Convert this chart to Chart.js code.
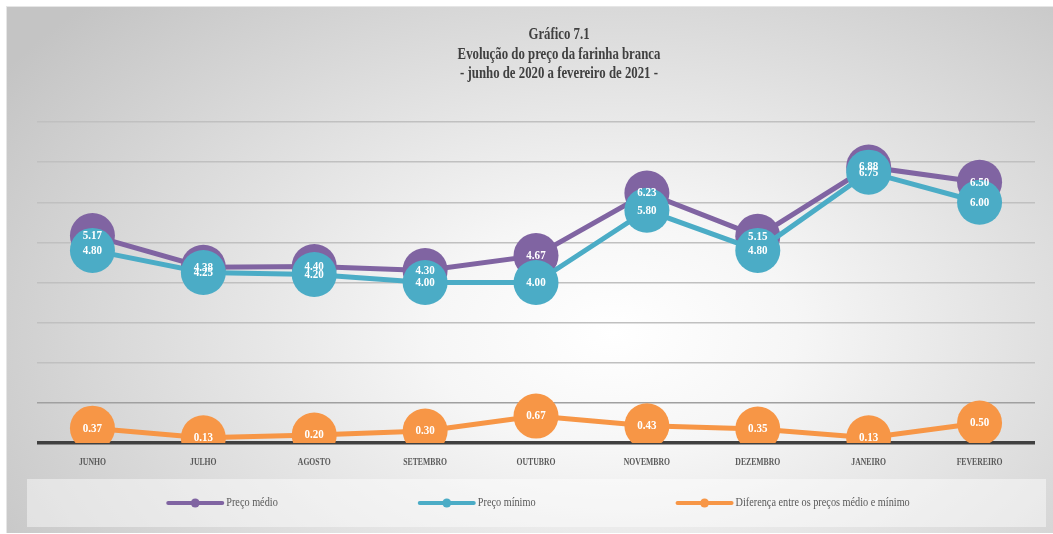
<!DOCTYPE html>
<html lang="pt-br">
<head>
  <meta charset="UTF-8">
  <title>Gráfico 7.1 - Farinha branca</title>
  <script src="https://cdn.jsdelivr.net/npm/chart.js"></script>
</head>

<style>
  body {
    margin: 0;
    background: #ffffff;
    overflow: hidden;
  }

  .moldura {
    position: absolute;
    left: 6px;
    top: 6px;
    width: 1047px;
    height: 527px;
    background: radial-gradient(ellipse 70% 90% at 58% 62%, #ffffff 0%, #f6f6f6 25%, #c4c4c4 100%);
    border-top: 1px solid #e6e6e6;
    border-left: 1px solid #e6e6e6;
    box-sizing: border-box;
  }

  .caixa-legenda {
    position: absolute;
    left: 27px;
    top: 479px;
    width: 1019px;
    height: 48px;
    background: rgba(255, 255, 255, 0.45);
  }

  .grafico {
    position: absolute;
    left: 0;
    top: 0;
    width: 1053px;
    height: 534px;
  }
</style>

<body>

  <div class="moldura"></div>
  <div class="caixa-legenda"></div>
  <div class="grafico">
    <canvas id="graficoFarinha"></canvas>
  </div>

  <script>
    // Dados
    const meses = ['JUNHO', 'JULHO', 'AGOSTO', 'SETEMBRO', 'OUTUBRO', 'NOVEMBRO', 'DEZEMBRO', 'JANEIRO', 'FEVEREIRO'];
    const precoMedio = [5.17, 4.38, 4.40, 4.30, 4.67, 6.23, 5.15, 6.88, 6.50];
    const precoMinimo = [4.80, 4.25, 4.20, 4.00, 4.00, 5.80, 4.80, 6.75, 6.00];
    const diferenca = [0.37, 0.13, 0.20, 0.30, 0.67, 0.43, 0.35, 0.13, 0.50];
    const titulo = ['Gráfico 7.1', 'Evolução do preço da farinha branca', '- junho de 2020 a fevereiro de 2021 -'];

    // fonte serifada "apertada" na horizontal, imitando a condensada do original
    const fonte = "'Liberation Serif', 'DejaVu Serif', serif";
    const roxo = '#8064A2';
    const azul = '#4BACC6';
    const laranja = '#F79646';

    // escreve texto comprimido na horizontal
    function texto(ctx, str, x, y, sx) {
      ctx.save();
      ctx.translate(x, y);
      ctx.scale(sx, 1);
      ctx.fillText(str, 0, 0);
      ctx.restore();
    }

    // Título desenhado à mão (centralizado um pouco à direita, como no original)
    const tituloPlugin = {
      id: 'tituloPlugin',
      afterDraw(chart) {
        const ctx = chart.ctx;
        const area = chart.chartArea;
        const cx = (area.left + area.right) / 2 + 23;
        ctx.save();
        ctx.font = 'bold 16px ' + fonte;
        ctx.fillStyle = '#404040';
        ctx.textAlign = 'center';
        ctx.textBaseline = 'middle';
        [35, 55, 74].forEach((y, i) => texto(ctx, titulo[i], cx, y, 0.8));
        ctx.restore();
      }
    };

    // Rótulos do eixo x e rótulos brancos dentro dos círculos
    const rotulosPlugin = {
      id: 'rotulosPlugin',
      afterDatasetsDraw(chart) {
        const ctx = chart.ctx;
        const xs = chart.scales.x;
        ctx.save();
        ctx.textAlign = 'center';
        ctx.textBaseline = 'middle';

        ctx.font = 'bold 11px ' + fonte;
        ctx.fillStyle = '#595959';
        meses.forEach((m, i) => texto(ctx, m, xs.getPixelForValue(i), xs.top + 19, 0.7));

        ctx.font = 'bold 13px ' + fonte;
        ctx.fillStyle = '#ffffff';
        chart.data.datasets.forEach((ds, i) => {
          chart.getDatasetMeta(i).data.forEach((pt, j) => {
            texto(ctx, ds.data[j].toFixed(2), pt.x, pt.y, 0.85);
          });
        });
        ctx.restore();
      }
    };

    // Legenda com linha + bolinha
    const legendaPlugin = {
      id: 'legendaPlugin',
      afterDraw(chart) {
        const ctx = chart.ctx;
        const area = chart.chartArea;
        const linha = 54, espaco = 4, separa = 142, sx = 0.82;
        const y = 503;
        ctx.save();
        ctx.font = '12.5px ' + fonte;
        const itens = chart.data.datasets.map(ds => ({
          texto: ds.label, cor: ds.borderColor, largura: ctx.measureText(ds.label).width * sx
        }));
        let total = 0;
        itens.forEach((it, i) => { total += linha + espaco + it.largura + (i ? separa : 0); });
        let x = (area.left + area.right) / 2 + 3 - total / 2;
        itens.forEach(it => {
          ctx.strokeStyle = it.cor;
          ctx.lineWidth = 4;
          ctx.lineCap = 'round';
          ctx.beginPath();
          ctx.moveTo(x, y);
          ctx.lineTo(x + linha, y);
          ctx.stroke();
          ctx.fillStyle = it.cor;
          ctx.beginPath();
          ctx.arc(x + linha / 2, y, 4.5, 0, Math.PI * 2);
          ctx.fill();
          ctx.fillStyle = '#595959';
          ctx.textAlign = 'left';
          ctx.textBaseline = 'middle';
          texto(ctx, it.texto, x + linha + espaco, y, sx);
          x += linha + espaco + it.largura + separa;
        });
        ctx.restore();
      }
    };

    const serie = (label, dados, cor, ordem) => ({
      label: label,
      data: dados,
      borderColor: cor,
      backgroundColor: cor,
      borderWidth: 5,
      pointRadius: 22.5,
      pointHoverRadius: 22.5,
      pointBorderWidth: 0,
      order: ordem
    });

    const ctx = document.getElementById('graficoFarinha').getContext('2d');
    new Chart(ctx, {
      type: 'line',
      data: {
        labels: meses,
        datasets: [
          serie('Preço médio', precoMedio, roxo, 3),
          serie('Preço mínimo', precoMinimo, azul, 2),
          serie('Diferença entre os preços médio e mínimo', diferenca, laranja, 1)
        ]
      },
      options: {
        responsive: true,
        maintainAspectRatio: false,
        animation: false,
        layout: {
          autoPadding: false,
          padding: { left: 37, right: 18, top: 122, bottom: 54 }
        },
        plugins: {
          legend: { display: false },
          title: { display: false },
          tooltip: { enabled: false }
        },
        scales: {
          x: {
            offset: true,
            grid: { display: false, drawTicks: false },
            border: { display: false },
            ticks: { display: false },
            // espaço para os rótulos escritos pelo plugin
            afterFit: s => { s.height = 37; }
          },
          y: {
            min: 0,
            max: 8,
            border: { display: false },
            grid: {
              drawTicks: false,
              color: c => c.tick.value === 0 ? '#404040' : (c.tick.value === 1 ? '#a0a0a0' : '#c0c0c0'),
              lineWidth: c => c.tick.value === 0 ? 3.5 : 1.5
            },
            ticks: { display: false, stepSize: 1 }
          }
        }
      },
      plugins: [tituloPlugin, rotulosPlugin, legendaPlugin]
    });
  </script>
</body>
</html>
